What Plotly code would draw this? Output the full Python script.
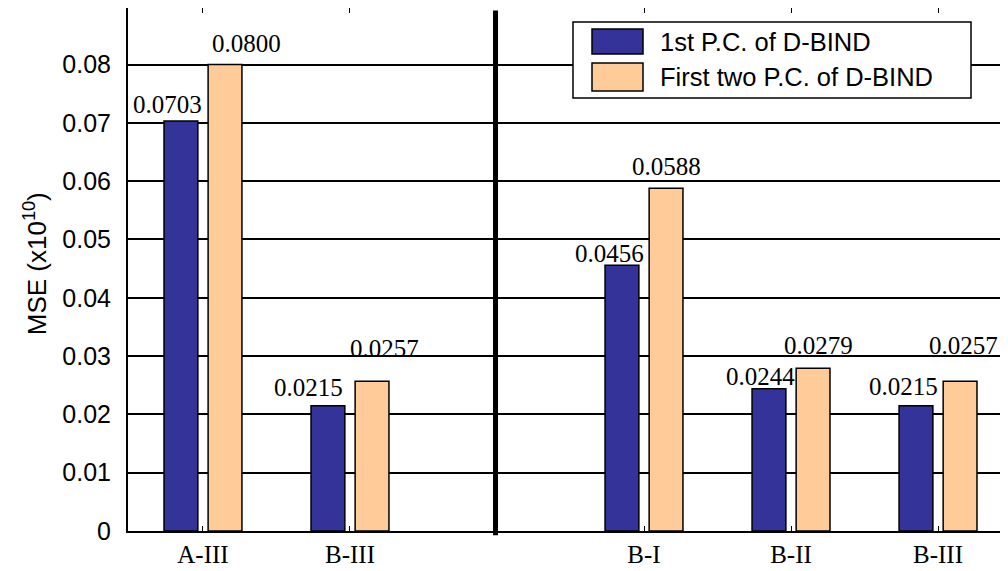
import plotly.graph_objects as go

# ---- data ----
left_groups = ["A-III", "B-III"]
right_groups = ["B-I", "B-II", "B-III"]
series_names = ["1st P.C. of D-BIND", "First two P.C. of D-BIND"]
first_pc = [0.0703, 0.0215, 0.0456, 0.0244, 0.0215]
first_two_pc = [0.0800, 0.0257, 0.0588, 0.0279, 0.0257]
y_ticks = [0, 0.01, 0.02, 0.03, 0.04, 0.05, 0.06, 0.07, 0.08]

# label nudges (pixels) to mimic the original annotation placement
lab_dx1 = [-13, -19, -12, -8, -12]
lab_dy1 = [1, 3, -4, -3, 4]
lab_dx2 = [21, 12, 0, 5, 3]
lab_dy2 = [6, 17, 6, 7, 20]

BLUE = "#343399"
ORANGE = "#FFCC99"
SANS = "Liberation Sans, Arial, sans-serif"
SERIF = "Liberation Serif, Times New Roman, serif"

# positions: left groups, one empty slot (separator), right groups
labels = left_groups + right_groups
sep_pos = len(left_groups)
pos = list(range(len(left_groups))) + [sep_pos + 1 + i for i in range(len(right_groups))]

fig = go.Figure()
for name, vals, col in [(series_names[0], first_pc, BLUE), (series_names[1], first_two_pc, ORANGE)]:
    fig.add_trace(go.Bar(
        x=pos, y=vals, name=name,
        marker=dict(color=col, line=dict(color="black", width=1.5)),
        showlegend=False,
    ))

annotations = []
for i, p in enumerate(pos):
    annotations.append(dict(x=p - 0.15, y=first_pc[i], xref="x", yref="y",
                            text=f"{first_pc[i]:.4f}", showarrow=False,
                            yanchor="bottom", xanchor="center",
                            xshift=lab_dx1[i], yshift=lab_dy1[i],
                            font=dict(family=SERIF, size=25, color="black")))
    annotations.append(dict(x=p + 0.15, y=first_two_pc[i], xref="x", yref="y",
                            text=f"{first_two_pc[i]:.4f}", showarrow=False,
                            yanchor="bottom", xanchor="center",
                            xshift=lab_dx2[i], yshift=lab_dy2[i],
                            font=dict(family=SERIF, size=25, color="black")))

# y title
annotations.append(dict(x=0, y=0.51, xref="paper", yref="paper", xshift=-93,
                        text="MSE (x10<sup>10</sup>)", textangle=-90, showarrow=False,
                        xanchor="center", yanchor="middle",
                        font=dict(family=SANS, size=26, color="black")))

# page geometry (page has an 8px body margin)
OFF = 8
L, T, B, PW = 128, 8, 531, 880
PH = B - T
def px(x):
    return (x - L) / PW
def py(y):
    return (B - y) / PH

shapes = [
    # separator
    dict(type="line", xref="x", yref="paper", x0=sep_pos - 0.01, x1=sep_pos - 0.01,
         y0=-0.008, y1=0.995, line=dict(color="black", width=5), layer="above"),
    # legend box
    dict(type="rect", xref="paper", yref="paper", x0=px(573), x1=px(971), y0=py(98), y1=py(22),
         fillcolor="white", line=dict(color="black", width=1.5), layer="above"),
    dict(type="rect", xref="paper", yref="paper", x0=px(592), x1=px(643), y0=py(54), y1=py(29),
         fillcolor=BLUE, line=dict(color="black", width=1.5), layer="above"),
    dict(type="rect", xref="paper", yref="paper", x0=px(592), x1=px(643), y0=py(91), y1=py(63),
         fillcolor=ORANGE, line=dict(color="black", width=1.5), layer="above"),
]
for name, yc in [(series_names[0], 42), (series_names[1], 77)]:
    annotations.append(dict(x=px(658), y=py(yc), xref="paper", yref="paper", text=name,
                            showarrow=False, xanchor="left", yanchor="middle",
                            font=dict(family=SANS, size=25.5, color="black")))

W, H = 1008 - OFF, 571 - OFF
fig.update_layout(
    width=W, height=H,
    margin=dict(l=L - OFF, r=0, t=T - OFF, b=H - (B - OFF), autoexpand=False),
    paper_bgcolor="white", plot_bgcolor="white",
    barmode="group", bargap=0.4, bargroupgap=0.233,
    annotations=annotations, shapes=shapes,
    xaxis=dict(range=[-0.51, 5.476], tickvals=pos, ticktext=labels,
               showline=True, linecolor="black", linewidth=2, mirror="ticks",
               ticks="inside", ticklen=5, tickcolor="black", showgrid=False, zeroline=False,
               tickfont=dict(family=SERIF, size=25, color="black")),
    yaxis=dict(range=[0, 0.0897], tickvals=y_ticks,
               ticktext=["0" if v == 0 else f"{v:.2f}" for v in y_ticks],
               showline=True, linecolor="black", linewidth=2, mirror=False,
               ticks="inside", ticklen=4, tickcolor="black", ticklabelstandoff=10,
               showgrid=True, gridcolor="black", gridwidth=1.5, zeroline=False,
               tickfont=dict(family=SANS, size=25, color="black")),
)

fig.write_html("out.html")
